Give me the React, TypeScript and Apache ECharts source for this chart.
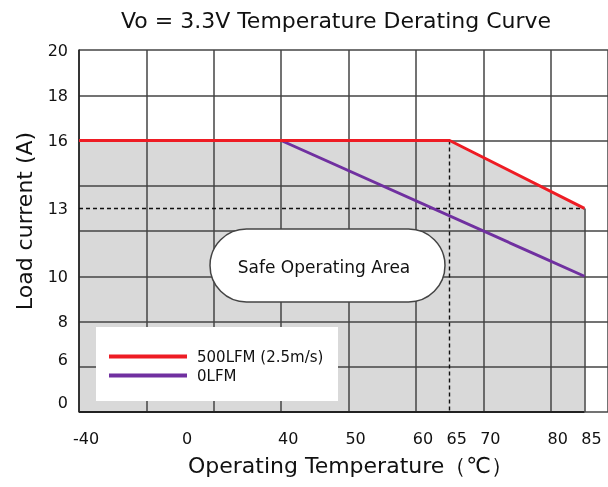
import React, { useEffect, useRef } from "react";
import * as echarts from "echarts";

const TITLE = "Vo = 3.3V Temperature Derating Curve";
const X_NAME = "Operating Temperature（℃）";
const Y_NAME = "Load current (A)";
const SOA_LABEL = "Safe Operating Area";
const SERIES_NAMES = ["500LFM (2.5m/s)", "0LFM"];

const TEMP_500 = [-40, 65, 85];
const LOAD_500 = [16, 16, 13];
const TEMP_0 = [-40, 40, 85];
const LOAD_0 = [16, 16, 10];

const X_TICKS = [-40, 0, 40, 50, 60, 65, 70, 80, 85];
const Y_TICKS = [0, 6, 8, 10, 13, 16, 18, 20];

const GUIDE_TEMP = 65;
const GUIDE_LOAD = 13;

// piecewise (schematic) scales: [value, axis coordinate]
const X_KNOTS = [
  [-40, 10],
  [40, 40],
  [100, 100],
];
const Y_KNOTS = [
  [0, 4.4],
  [6, 6.3],
  [8, 8],
  [20, 20],
];
const X_RANGE = [10, 88.5];
const Y_RANGE = [4, 20];

function pw(knots: number[][], v: number, inv = false): number {
  const a = inv ? 1 : 0;
  const b = inv ? 0 : 1;
  for (let i = 0; i < knots.length - 1; i++) {
    const k0 = knots[i];
    const k1 = knots[i + 1];
    if (v <= k1[a] || i === knots.length - 2) {
      return k0[b] + ((v - k0[a]) * (k1[b] - k0[b])) / (k1[a] - k0[a]);
    }
  }
  return v;
}
const fx = (t: number) => pw(X_KNOTS, t);
const fy = (l: number) => pw(Y_KNOTS, l);

const FONT = "DejaVu Sans";
const RED = "#ee1c24";
const PURPLE = "#7030a0";
const GRID = "#444";

export default function App() {
  const ref = useRef<HTMLDivElement>(null);
  useEffect(() => {
    if (!ref.current) return;
    const chart = echarts.init(ref.current, undefined, { renderer: "svg" });
    const d500 = TEMP_500.map((t, i) => [fx(t), fy(LOAD_500[i])]);
    const d0 = TEMP_0.map((t, i) => [fx(t), fy(LOAD_0[i])]);
    const first = TEMP_500[0];
    const last = TEMP_500[TEMP_500.length - 1];
    const lastLoad = LOAD_500[LOAD_500.length - 1];
    const dash = { type: [4, 3], color: "#111", width: 1.4 };
    chart.setOption({
      animation: false,
      textStyle: { fontFamily: FONT },
      grid: { left: 79, top: 50, right: 0, bottom: 75, containLabel: false },
      legend: {
        orient: "vertical",
        left: 109,
        top: 349,
        padding: 0,
        itemWidth: 78,
        itemHeight: 4,
        itemGap: 4,
        z: 12,
        icon: "rect",
        data: SERIES_NAMES,
        textStyle: { fontSize: 15, color: "#111", fontFamily: FONT, padding: [0, 0, 0, 5] },
      },
      xAxis: {
        type: "value",
        min: X_RANGE[0],
        max: X_RANGE[1],
        interval: 10,
        z: 1,
        name: X_NAME,
        nameLocation: "middle",
        nameGap: 42,
        nameTextStyle: { fontSize: 22, color: "#111", fontFamily: FONT, padding: [0, 0, 0, 14] },
        axisLine: { show: false },
        axisTick: { show: false },
        splitLine: { show: true, lineStyle: { color: GRID, width: 1.5 } },
        axisLabel: {
          customValues: X_TICKS.map(fx),
          formatter: (v: number) => String(Math.round(pw(X_KNOTS, v, true))),
          fontSize: 16,
          color: "#111",
          margin: 18,
          padding: [0, 0, 0, 14],
        },
      },
      yAxis: {
        type: "value",
        min: Y_RANGE[0],
        max: Y_RANGE[1],
        interval: 2,
        z: 1,
        name: Y_NAME,
        nameLocation: "middle",
        nameGap: 44,
        nameTextStyle: { fontSize: 22, color: "#111", fontFamily: FONT, padding: [0, 0, 0, 20] },
        axisLine: { show: true, lineStyle: { color: "#222", width: 1.5 } },
        axisTick: { show: false },
        splitLine: { show: true, lineStyle: { color: GRID, width: 1.5 } },
        axisLabel: {
          customValues: Y_TICKS.map(fy),
          formatter: (v: number) => String(Math.round(pw(Y_KNOTS, v, true))),
          fontSize: 16,
          color: "#111",
          margin: 11,
        },
      },
      graphic: [
        {
          type: "text",
          style: {
            x: 336,
            y: 20,
            text: TITLE,
            fill: "#111",
            font: `22px "${FONT}"`,
            align: "center",
            verticalAlign: "middle",
          },
          z: 20,
        },
        {
          type: "rect",
          shape: { x: 96, y: 327, width: 242, height: 74 },
          style: { fill: "#fff" },
          z: 10,
        },
        {
          type: "rect",
          shape: { x: 210, y: 229, width: 235, height: 73, r: 36.5 },
          style: { fill: "#fff", stroke: "#444", lineWidth: 1.5 },
          z: 10,
        },
        {
          type: "text",
          style: {
            x: 324,
            y: 267,
            text: SOA_LABEL,
            fill: "#111",
            font: `17px "${FONT}"`,
            align: "center",
            verticalAlign: "middle",
          },
          z: 11,
        },
      ],
      series: [
        {
          type: "line",
          name: "area",
          data: d500,
          symbol: "none",
          silent: true,
          z: 0,
          lineStyle: { width: 0, opacity: 0 },
          areaStyle: { color: "#d9d9d9", opacity: 1, origin: "start" },
          markLine: {
            silent: true,
            symbol: "none",
            z: 2,
            label: { show: false },
            data: [
              [
                { coord: [fx(first), Y_RANGE[0]], lineStyle: { type: "solid", color: "#222", width: 2 } },
                { coord: [fx(last), Y_RANGE[0]] },
              ],
              [
                { coord: [fx(last), fy(lastLoad)], lineStyle: { type: "solid", color: "#444", width: 1.5 } },
                { coord: [fx(last), Y_RANGE[0]] },
              ],
              [
                { coord: [fx(first), fy(GUIDE_LOAD)], lineStyle: dash },
                { coord: [fx(last), fy(GUIDE_LOAD)] },
              ],
              [
                { coord: [fx(GUIDE_TEMP), fy(LOAD_500[1])], lineStyle: dash },
                { coord: [fx(GUIDE_TEMP), Y_RANGE[0]] },
              ],
            ],
          },
        },
        {
          type: "line",
          name: SERIES_NAMES[1],
          data: d0,
          symbol: "none",
          z: 3,
          color: PURPLE,
          lineStyle: { color: PURPLE, width: 3 },
        },
        {
          type: "line",
          name: SERIES_NAMES[0],
          data: d500,
          symbol: "none",
          z: 4,
          color: RED,
          lineStyle: { color: RED, width: 3 },
        },
      ],
    });
    return () => chart.dispose();
  }, []);
  return (
    <div
      ref={ref}
      style={{ position: "fixed", left: 0, top: 0, width: 608, height: 487 }}
    />
  );
}
